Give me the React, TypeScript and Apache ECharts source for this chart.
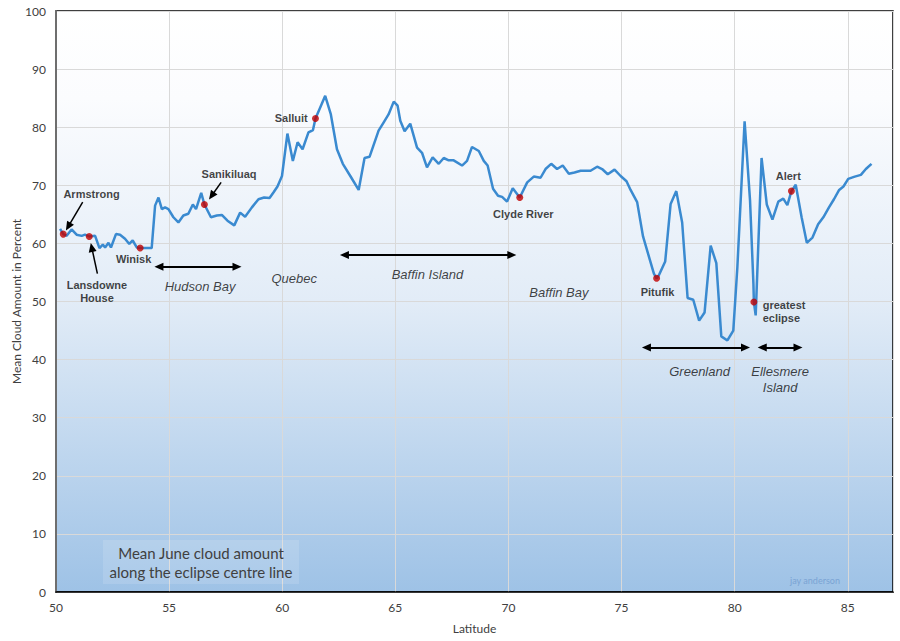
import React, { useEffect, useRef } from "react";
import * as echarts from "echarts";

// Mean June cloud amount along the eclipse centre line
const latitude = [
  50.18, 50.32, 50.47, 50.69, 50.91, 51.14, 51.28, 51.47, 51.73, 51.92, 52.07, 52.17, 52.32, 52.43,
  52.65, 52.83, 53.05, 53.24, 53.39, 53.57, 53.72, 54.23, 54.38, 54.53, 54.68, 54.82, 54.97, 55.19,
  55.41, 55.63, 55.85, 56.05, 56.19, 56.42, 56.56, 56.85, 57.11, 57.33, 57.58, 57.88, 58.14, 58.36,
  58.66, 58.95, 59.2, 59.44, 59.62, 59.79, 59.99, 60.23, 60.47, 60.68, 60.9, 61.16, 61.36, 61.47,
  61.68, 61.9, 62.15, 62.42, 62.68, 63.01, 63.38, 63.64, 63.86, 64.26, 64.48, 64.7, 64.93, 65.1,
  65.22, 65.41, 65.66, 65.96, 66.18, 66.4, 66.65, 66.92, 67.14, 67.36, 67.58, 67.95, 68.17, 68.39,
  68.69, 68.91, 69.08, 69.32, 69.54, 69.72, 69.94, 70.19, 70.5, 70.83, 71.12, 71.42, 71.64, 71.89,
  72.15, 72.4, 72.67, 72.92, 73.19, 73.63, 73.92, 74.14, 74.39, 74.69, 74.96, 75.22, 75.4, 75.69,
  75.95, 76.22, 76.43, 76.55, 76.65, 76.93, 77.17, 77.42, 77.68, 77.92, 78.17, 78.43, 78.67, 78.94,
  79.19, 79.41, 79.68, 79.94, 80.12, 80.44, 80.68, 80.83, 80.85, 80.93, 81.19, 81.42, 81.67, 81.93,
  82.15, 82.33, 82.51, 82.7, 82.96, 83.19, 83.44, 83.69, 83.92, 84.17, 84.39, 84.62, 84.81, 85.02,
  85.31, 85.58, 85.8, 86.05,
];
const cloudAmount = [
  62.5, 61.6, 61.3, 62.4, 61.5, 61.3, 61.5, 61.2, 61.3, 59.2, 59.8, 59.3, 60.1, 59.3,
  61.6, 61.5, 60.8, 59.9, 60.5, 59.3, 59.2, 59.2, 66.5, 67.9, 65.9, 66.2, 65.9, 64.5,
  63.6, 64.8, 65.1, 66.7, 65.9, 68.7, 66.7, 64.5, 64.8, 64.9, 63.9, 63.1, 65.3, 64.6,
  66.2, 67.6, 67.9, 67.8, 68.8, 69.8, 71.6, 78.9, 74.2, 77.4, 76.2, 79.1, 79.5, 81.5,
  83.4, 85.4, 82.2, 76.2, 73.7, 71.6, 69.2, 74.7, 74.9, 79.4, 80.8, 82.2, 84.4, 83.7,
  81.1, 79.3, 80.6, 76.5, 75.6, 73.1, 74.8, 73.7, 74.7, 74.3, 74.3, 73.4, 74.2, 76.6,
  75.9, 74.2, 73.4, 69.4, 68.2, 68.0, 67.2, 69.5, 67.9, 70.5, 71.5, 71.3, 72.8, 73.7,
  72.8, 73.4, 72.0, 72.2, 72.5, 72.5, 73.2, 72.8, 71.9, 72.7, 71.6, 70.7, 69.2, 67.1,
  61.2, 57.6, 54.8, 54.0, 54.5, 56.9, 66.8, 69.0, 63.6, 50.6, 50.3, 46.7, 48.1, 59.6,
  56.6, 44.0, 43.3, 45.0, 55.9, 81.0, 67.4, 53.0, 49.9, 47.6, 74.7, 66.7, 64.1, 67.2,
  67.7, 66.6, 69.0, 70.1, 64.5, 60.1, 61.0, 63.3, 64.5, 66.2, 67.6, 69.2, 69.8, 71.1,
  71.5, 71.8, 72.8, 73.7,
];

// Stations (red dots)
const stationLat = [50.32, 51.47, 53.72, 56.56, 61.47, 70.5, 76.55, 80.85, 82.51];
const stationVal = [61.6, 61.2, 59.2, 66.7, 81.5, 67.9, 54.0, 49.9, 69.0];

// Station labels
const stationLabels = [
  "Armstrong", "Lansdowne\nHouse", "Winisk", "Sanikiluaq", "Salluit",
  "Clyde River", "Pitufik", "greatest\neclipse", "Alert",
];
const stationLabelLat = [51.57, 51.81, 53.43, 57.65, 60.4, 70.66, 76.59, 81.24, 82.37];
const stationLabelVal = [68.5, 51.8, 57.3, 71.9, 81.6, 65.0, 51.6, 48.3, 71.6];

// Region labels
const regionLabels = ["Hudson Bay", "Quebec", "Baffin Island", "Baffin Bay", "Greenland", "Ellesmere\nIsland"];
const regionLat = [56.37, 60.53, 66.42, 72.23, 78.45, 82.01];
const regionVal = [52.5, 54.0, 54.7, 51.6, 37.9, 36.5];

// Span arrows (double-headed, arrowhead centres): [lat1, val1, lat2, val2]
const spanArrows = [
  [54.55, 56.0, 58.0, 56.0],
  [62.75, 58.0, 70.15, 58.0],
  [76.1, 42.1, 80.48, 42.1],
  [81.22, 42.1, 82.8, 42.1],
];
// Pointer arrows (head at the second point)
const pointerArrows = [
  [51.18, 67.1, 50.54, 62.9],
  [51.83, 54.8, 51.58, 59.3],
  [57.3, 70.5, 56.88, 68.2],
];

const xTicks = [50, 55, 60, 65, 70, 75, 80, 85];

export default function App() {
  const ref = useRef<HTMLDivElement>(null);
  useEffect(() => {
    const chart = echarts.init(ref.current!, null, { renderer: "svg" });
    const lineData = latitude.map((x, i) => [x, cloudAmount[i]]);
    const stationData = stationLat.map((x, i) => [x, stationVal[i]]);
    const stationLabelData = stationLabels.map((t, i) => ({
      value: [stationLabelLat[i], stationLabelVal[i]],
      name: t,
      label: t.startsWith("greatest") ? { align: "left" } : {},
    }));
    const regionData = regionLabels.map((t, i) => ({
      value: [regionLat[i], regionVal[i]],
      name: t,
    }));
    const markLines: any[] = [];
    spanArrows.forEach((a) => {
      markLines.push([
        { coord: [a[0], a[1]], symbol: "triangle", lineStyle: { color: "#000", width: 2, type: "solid" } },
        { coord: [a[2], a[3]], symbol: "triangle" },
      ]);
    });
    pointerArrows.forEach((a) => {
      markLines.push([
        { coord: [a[0], a[1]], symbol: "none", lineStyle: { color: "#000", width: 1.5, type: "solid" } },
        { coord: [a[2], a[3]], symbol: "triangle" },
      ]);
    });

    const option: any = {
      animation: false,
      backgroundColor: "#ffffff",
      grid: {
        left: 56,
        right: 7,
        top: 11,
        bottom: 49,
        show: true,
        containLabel: false,
        outerBoundsMode: "none",
        borderColor: "#000000",
        borderWidth: 1.5,
        backgroundColor: new echarts.graphic.LinearGradient(0, 0, 0, 1, [
          { offset: 0, color: "#ffffff" },
          { offset: 0.15, color: "#fbfcfe" },
          { offset: 0.5, color: "#e2ecf7" },
          { offset: 1, color: "#9ec2e6" },
        ]),
      },
      xAxis: {
        type: "value",
        min: 50,
        max: 87,
        interval: 5,
        name: "Latitude",
        nameLocation: "middle",
        nameGap: 30,
        nameTextStyle: { fontFamily: "Lato", fontSize: 12, color: "#404040" },
        axisLine: { show: true, lineStyle: { color: "#000", width: 1.5 } },
        axisTick: { show: false },
        axisLabel: {
          fontFamily: "Lato",
          fontSize: 12,
          color: "#404040",
          margin: 9,
          formatter: (v: number) => (xTicks.includes(v) ? String(v) : ""),
        },
        splitLine: { show: true, lineStyle: { color: "#d9d9d9", width: 1 } },
      },
      yAxis: {
        type: "value",
        min: 0,
        max: 100,
        interval: 10,
        name: "Mean Cloud Amount in Percent",
        nameLocation: "middle",
        nameGap: 34,
        nameMoveOverlap: false,
        nameTextStyle: { fontFamily: "Lato", fontSize: 12, color: "#404040" },
        axisLine: { show: true, lineStyle: { color: "#6e6e6e", width: 2 } },
        axisTick: { show: false },
        axisLabel: { fontFamily: "Lato", fontSize: 12, color: "#404040", margin: 10 },
        splitLine: { show: true, lineStyle: { color: "#d9d9d9", width: 1 } },
      },
      series: [
        {
          type: "line",
          data: lineData,
          showSymbol: false,
          symbol: "none",
          lineStyle: { color: "#3a8ad0", width: 2.5 },
          silent: true,
          z: 3,
          markLine: {
            silent: true,
            symbolSize: [8, 9],
            label: { show: false },
            lineStyle: { color: "#000", type: "solid" },
            itemStyle: { color: "#000" },
            data: markLines,
          },
        },
        {
          type: "scatter",
          data: stationData,
          symbol: "circle",
          symbolSize: 7,
          itemStyle: { color: "#c00000" },
          silent: true,
          z: 5,
        },
        {
          type: "scatter",
          data: stationLabelData,
          symbolSize: 0,
          silent: true,
          z: 6,
          label: {
            show: true,
            position: "inside",
            formatter: (p: any) => p.name,
            fontFamily: "Liberation Sans",
            fontWeight: "bold",
            fontSize: 11,
            lineHeight: 13,
            color: "#111111",
          },
        },
        {
          type: "scatter",
          data: regionData,
          symbolSize: 0,
          silent: true,
          z: 6,
          label: {
            show: true,
            position: "inside",
            formatter: (p: any) => p.name,
            fontFamily: "Liberation Sans",
            fontStyle: "italic",
            fontSize: 13,
            lineHeight: 16,
            color: "#111111",
          },
        },
      ],
      graphic: [
        {
          type: "rect",
          x: 103,
          y: 540,
          shape: { width: 196, height: 44 },
          style: { fill: "rgba(255,255,255,0.13)" },
          z: 10,
        },
        {
          type: "text",
          x: 201,
          y: 543,
          style: {
            text: "Mean June cloud amount\nalong the eclipse centre line",
            fontFamily: "Lato",
            fontSize: 15,
            lineHeight: 19,
            fill: "#404040",
            align: "center",
            verticalAlign: "top",
          },
          z: 11,
        },
        {
          type: "text",
          x: 815,
          y: 580,
          style: {
            text: "jay anderson",
            fontFamily: "Lato",
            fontSize: 9,
            fill: "#7aa3d4",
            align: "center",
            verticalAlign: "middle",
          },
          z: 11,
        },
      ],
    };
    chart.setOption(option);
    return () => chart.dispose();
  }, []);
  return <div ref={ref} style={{ position: "absolute", left: 0, top: 0, width: 900, height: 641 }} />;
}
